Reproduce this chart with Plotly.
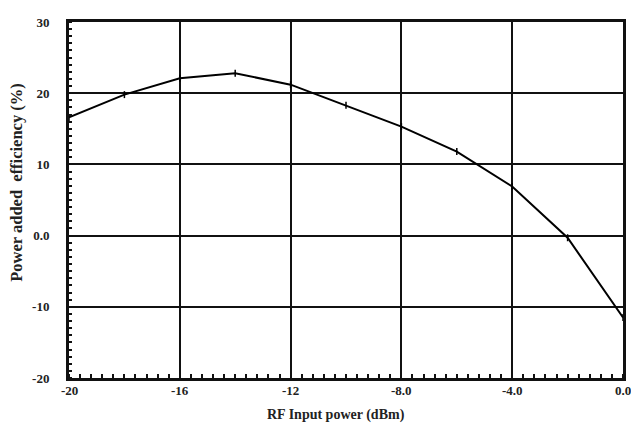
import plotly.graph_objects as go

# RF input power sweep (dBm) and measured power added efficiency (%)
rf_input_dbm = [-20, -18, -16, -14, -12, -10, -8, -6, -4, -2, 0]
pae_percent = [16.6, 19.8, 22.1, 22.8, 21.2, 18.3, 15.3, 11.8, 6.9, -0.3, -11.5]

x_tick_vals = [-20, -16, -12, -8, -4, 0]
x_tick_text = ["-20", "-16", "-12", "-8.0", "-4.0", "0.0"]
y_tick_vals = [-20, -10, 0, 10, 20, 30]
y_tick_text = ["-20", "-10", "0.0", "10", "20", "30"]

FONT = "Liberation Serif"
INK = "#111"

fig = go.Figure()
fig.add_trace(go.Scatter(
    x=rf_input_dbm,
    y=pae_percent,
    mode="lines+markers",
    line=dict(color="black", width=2),
    marker=dict(symbol="line-ns", size=5, line=dict(color="black", width=1.5)),
    showlegend=False,
))

fig.update_layout(
    width=631,
    height=425,
    margin=dict(l=69, r=8, t=22, b=47, autoexpand=False),
    paper_bgcolor="white",
    plot_bgcolor="white",
    font=dict(family=FONT, color="#222", size=13),
)

fig.update_xaxes(
    range=[-20, 0],
    tickvals=x_tick_vals,
    showticklabels=False,
    showgrid=True, gridcolor=INK, gridwidth=2,
    showline=True, linecolor=INK, linewidth=3, mirror=True,
    ticks="", zeroline=False, automargin=False,
    minor=dict(ticks="inside", ticklen=4, tickwidth=1.5, tickcolor=INK,
               dtick=0.4, tick0=-20, showgrid=False),
)

fig.update_yaxes(
    range=[-20, 30],
    tickvals=y_tick_vals,
    ticktext=["<b>%s</b>" % t for t in y_tick_text],
    showgrid=True, gridcolor=INK, gridwidth=2,
    showline=True, linecolor=INK, linewidth=3, mirror=True,
    ticks="", zeroline=False, automargin=False,
    minor=dict(ticks="inside", ticklen=3, tickwidth=1.5, tickcolor=INK,
               dtick=1, tick0=-20, showgrid=False),
    tickfont=dict(family=FONT, size=13),
    ticklabelstandoff=14,
)

# x tick labels drawn as annotations so the last one can overhang the frame
for v, t in zip(x_tick_vals, x_tick_text):
    fig.add_annotation(
        x=v, y=0, xref="x", yref="paper",
        text="<b>%s</b>" % t, showarrow=False,
        yanchor="top", yshift=-3,
        font=dict(family=FONT, size=13, color="#222"),
    )

# axis titles
fig.add_annotation(
    x=0.482, y=-0.105, xref="paper", yref="paper",
    text="<b>RF Input power (dBm)</b>", showarrow=False,
    xanchor="center", yanchor="middle",
    font=dict(family=FONT, size=14, color="#222"),
)
fig.add_annotation(
    x=-0.094, y=0.551, xref="paper", yref="paper",
    text="<b>Power added  efficiency (%)</b>", showarrow=False,
    textangle=-90, xanchor="center", yanchor="middle",
    font=dict(family=FONT, size=16.5, color="#222"),
)

fig.write_html("out.html")
